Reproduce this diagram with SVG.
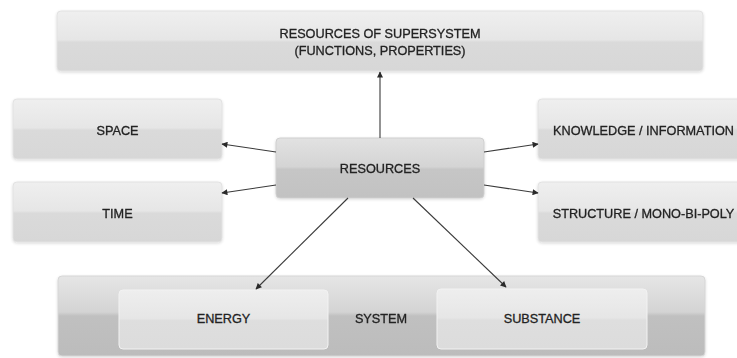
<svg xmlns="http://www.w3.org/2000/svg" width="737" height="358" viewBox="0 0 737 358">
<style>
.lbl{font-family:"Liberation Sans",Arial,sans-serif;font-size:12.7px;fill:#222222;stroke:#222222;stroke-width:0.3;text-anchor:middle}
.box{fill:url(#gLight);stroke:#e2e2e2;stroke-width:1}
.res{fill:url(#gRes);stroke:#cfcfcf;stroke-width:1}
.sys{fill:url(#gSys);stroke:#d6d6d6;stroke-width:1}
.inner{fill:url(#gInner);stroke:#f2f2f2;stroke-width:1}
.conn{stroke:#3a3a3a;stroke-width:1.1;fill:none;marker-end:url(#arr)}
</style>
<defs>
<linearGradient id="gLight" x1="0" y1="0" x2="0" y2="1">
<stop offset="0" stop-color="#efefef"/><stop offset="0.48" stop-color="#e6e6e6"/><stop offset="0.52" stop-color="#dadada"/><stop offset="1" stop-color="#d7d7d7"/>
</linearGradient>
<linearGradient id="gRes" x1="0" y1="0" x2="0" y2="1">
<stop offset="0" stop-color="#e2e2e2"/><stop offset="0.48" stop-color="#d4d4d4"/><stop offset="0.52" stop-color="#c6c6c6"/><stop offset="1" stop-color="#c2c2c2"/>
</linearGradient>
<linearGradient id="gSys" x1="0" y1="0" x2="0" y2="1">
<stop offset="0" stop-color="#e6e6e6"/><stop offset="0.45" stop-color="#d4d4d4"/><stop offset="0.5" stop-color="#c0c0c0"/><stop offset="1" stop-color="#bcbcbc"/>
</linearGradient>
<linearGradient id="gInner" x1="0" y1="0" x2="0" y2="1">
<stop offset="0" stop-color="#eeeeee"/><stop offset="0.48" stop-color="#e6e6e6"/><stop offset="0.52" stop-color="#dedede"/><stop offset="1" stop-color="#dcdcdc"/>
</linearGradient>
<filter id="sh" x="-5%" y="-10%" width="110%" height="125%">
<feGaussianBlur in="SourceAlpha" stdDeviation="1.5"/>
<feOffset dy="1" result="b"/>
<feComponentTransfer><feFuncA type="linear" slope="0.15"/></feComponentTransfer>
<feMerge><feMergeNode/><feMergeNode in="SourceGraphic"/></feMerge>
</filter>
<marker id="arr" viewBox="0 0 10 10" refX="9" refY="5" markerWidth="8" markerHeight="6" markerUnits="userSpaceOnUse" orient="auto">
<path d="M0,0 L10,5 L0,10 z" fill="#2a2a2a"/>
</marker>
</defs>
<rect width="737" height="358" fill="#ffffff"/>

<g id="supersystem" filter="url(#sh)">
<rect class="box" x="57" y="11" width="646" height="60" rx="4"/>
<text class="lbl" x="380" y="37.5">RESOURCES OF SUPERSYSTEM</text>
<text class="lbl" x="380" y="55">(FUNCTIONS, PROPERTIES)</text>
</g>

<g id="space" filter="url(#sh)">
<rect class="box" x="13" y="99" width="209" height="60" rx="4"/>
<text class="lbl" x="117.5" y="135">SPACE</text>
</g>

<g id="time" filter="url(#sh)">
<rect class="box" x="13" y="182" width="209" height="60" rx="4"/>
<text class="lbl" x="117.5" y="218">TIME</text>
</g>

<g id="knowledge" filter="url(#sh)">
<rect class="box" x="538" y="99" width="215" height="60" rx="4"/>
<text class="lbl" x="643.5" y="135">KNOWLEDGE / INFORMATION</text>
</g>

<g id="structure" filter="url(#sh)">
<rect class="box" x="538" y="182" width="215" height="60" rx="4"/>
<text class="lbl" x="643.5" y="218">STRUCTURE / MONO-BI-POLY</text>
</g>

<g id="resources" filter="url(#sh)">
<rect class="res" x="276" y="138" width="208" height="60" rx="4"/>
<text class="lbl" x="380" y="173">RESOURCES</text>
</g>

<g id="system" filter="url(#sh)">
<rect class="sys" x="58" y="276" width="647" height="80" rx="4"/>
<text class="lbl" x="381" y="323">SYSTEM</text>
</g>

<g id="energy">
<rect class="inner" x="119" y="290" width="209" height="59" rx="4"/>
<text class="lbl" x="223.5" y="323">ENERGY</text>
</g>

<g id="substance">
<rect class="inner" x="437" y="289" width="210" height="60" rx="4"/>
<text class="lbl" x="542" y="323">SUBSTANCE</text>
</g>

<g id="connectors">
<line class="conn" x1="380" y1="138" x2="380" y2="72"/>
<line class="conn" x1="276" y1="152" x2="222" y2="144"/>
<line class="conn" x1="276" y1="185" x2="222" y2="193"/>
<line class="conn" x1="484" y1="152" x2="538" y2="144"/>
<line class="conn" x1="484" y1="185" x2="538" y2="193"/>
<line class="conn" x1="348" y1="198" x2="256" y2="289"/>
<line class="conn" x1="413" y1="198" x2="506" y2="287"/>
</g>
</svg>
